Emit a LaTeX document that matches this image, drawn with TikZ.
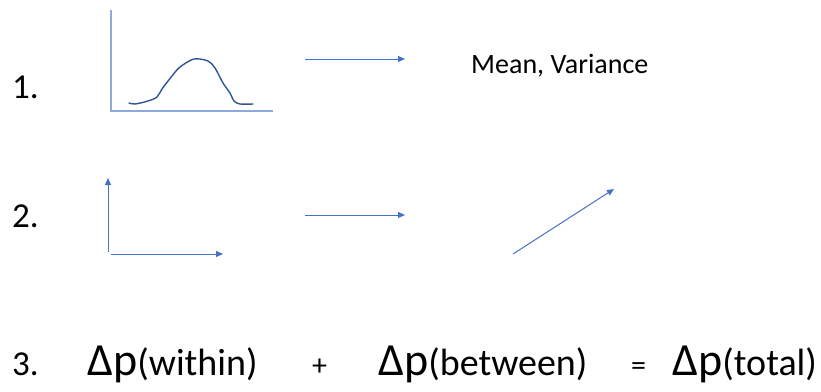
\documentclass[tikz,border=0pt]{standalone}
\usepackage{fontspec}
\setmainfont{Carlito}
\usetikzlibrary{arrows.meta}
\definecolor{axislight}{HTML}{8FAADC}
\definecolor{curveblue}{HTML}{2F5597}
\definecolor{arrowblue}{HTML}{4472C4}
\tikzset{
  lbl/.style={inner sep=0pt, anchor=base west, text=black},
  numlbl/.style={lbl, font=\fontsize{35}{35}\selectfont},
  arr/.style={draw=arrowblue, line width=1pt, -{Triangle[length=7pt,width=6pt]}},
  axisln/.style={draw=axislight, line width=1.6pt},
  curveln/.style={draw=curveblue, line width=1.4pt, line join=round, line cap=round}
}
\newcommand{\bigdp}[1]{{\fontsize{46}{46}\selectfont #1}}
\newcommand{\midtxt}[1]{{\fontsize{38}{38}\selectfont #1}}
\begin{document}
\begin{tikzpicture}[x=1pt,y=-1pt]
\useasboundingbox (0,0) rectangle (821,391);
% row labels
\node[numlbl] (n1) at (12,98) {1.};
\node[numlbl] (n2) at (12,227) {2.};
\node[numlbl] (n3) at (12,375) {3.};
% chart 1
\coordinate (c1top) at (111,10);
\coordinate (c1org) at (111,111);
\coordinate (c1right) at (273,111);
\draw[axisln] (c1top) -- (c1org) -- (c1right);
\draw[curveln] plot[smooth, tension=0.5] coordinates {(129,103) (135,104) (148,101) (157,97) (162,89) (172,76) (180,67) (194,59) (208,61) (215,68) (223,83) (230,93) (234,101) (240,104) (253,104)};
% arrow 1
\coordinate (a1s) at (305,59);
\coordinate (a1e) at (405,59);
\draw[arr] (a1s) -- (a1e);
\node[lbl, font=\fontsize{28}{28}\selectfont] (mv) at (471,73) {Mean, Variance};
% chart 2
\coordinate (c2vb) at (108,252);
\coordinate (c2vt) at (108,178);
\coordinate (c2hl) at (111,254);
\coordinate (c2hr) at (223,254);
\draw[arr] (c2vb) -- (c2vt);
\draw[arr] (c2hl) -- (c2hr);
% arrow 2
\coordinate (a2s) at (305,215);
\coordinate (a2e) at (405,215);
\draw[arr] (a2s) -- (a2e);
% diagonal
\coordinate (dgs) at (513,254);
\coordinate (dge) at (614,189);
\draw[arr] (dgs) -- (dge);
% equation
\node[lbl] (dw) at (87,375) {\bigdp{Δp}\midtxt{(within)}};
\node[lbl, font=\fontsize{30}{30}\selectfont] (plus) at (312,375) {+};
\node[lbl] (db) at (378,375) {\bigdp{Δp}\midtxt{(between)}};
\node[lbl, font=\fontsize{30}{30}\selectfont] (eq) at (631,375) {=};
\node[lbl] (dt) at (672,375) {\bigdp{Δp}\midtxt{(total)}};
\end{tikzpicture}
\end{document}
